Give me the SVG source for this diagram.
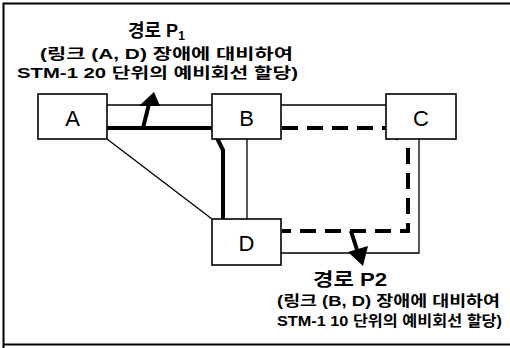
<svg xmlns="http://www.w3.org/2000/svg" width="510" height="348" viewBox="0 0 510 348">
<defs>
<style>
.box{fill:#fff;stroke:#000;stroke-width:1.6}
.lbl{font-family:"Liberation Sans",Arial,sans-serif;font-size:22px;text-anchor:middle;fill:#000}
.thin{fill:none;stroke:#000;stroke-width:1.3}
.thick{fill:none;stroke:#000;stroke-width:4}
.dash{fill:none;stroke:#000;stroke-width:4;stroke-dasharray:16 9}
.kt{font-family:"Liberation Sans","Noto Sans CJK KR",sans-serif;fill:#000}
.t1{font-size:18px;font-weight:bold}
.t2{font-size:15px;font-weight:bold}
</style>
</defs>
<rect x="0" y="0" width="510" height="348" fill="#fff"/>
<path d="M3.5 520 V3.5 H520 M3.5 344.5 H520" fill="none" stroke="#000" stroke-width="2"/>
<g id="connectors">
<line class="thin" x1="107" y1="105" x2="212" y2="105"/>
<line class="thin" x1="281" y1="105" x2="386" y2="105"/>
<line class="thin" x1="107" y1="139" x2="212" y2="219"/>
<line class="thin" x1="247" y1="139" x2="247" y2="219"/>
<polyline class="thin" points="419,139 419,253 281,253"/>
<polyline class="thick" points="107,128 212,128 223,150 223,219"/>
<polyline class="dash" points="282,128 387,128"/>
<polyline class="thick" points="387,128 398,139"/>
<polyline class="dash" points="408,148 408,231 282,231"/>
<line x1="143" y1="128" x2="149" y2="104" stroke="#000" stroke-width="4"/>
<polygon points="154,92 139,106 160,106" fill="#000"/>
<line x1="351" y1="231" x2="357" y2="250" stroke="#000" stroke-width="4"/>
<polygon points="363,266 348,252 368,246" fill="#000"/>
</g>
<g id="node-A"><rect class="box" x="38" y="94" width="69" height="45"/><text class="lbl" x="72.5" y="126">A</text></g>
<g id="node-B"><rect class="box" x="212" y="94" width="69" height="45"/><text class="lbl" x="246.5" y="126">B</text></g>
<g id="node-C"><rect class="box" x="386" y="94" width="70" height="45"/><text class="lbl" x="421" y="126">C</text></g>
<g id="node-D"><rect class="box" x="212" y="219" width="69" height="46"/><text class="lbl" x="246.5" y="251">D</text></g>
<g id="label-P1">
<text class="kt t1" x="128" y="37">경로 P<tspan font-size="12" dy="3">1</tspan></text>
<text class="kt t2" x="40" y="59" textLength="253" lengthAdjust="spacingAndGlyphs">(링크 (A, D) 장애에 대비하여</text>
<text class="kt t2" x="17" y="78" textLength="281" lengthAdjust="spacingAndGlyphs">STM-1 20 단위의 예비회선 할당)</text>
</g>
<g id="label-P2">
<text class="kt t1" x="313" y="286" textLength="74" lengthAdjust="spacingAndGlyphs">경로 P2</text>
<text class="kt t2" x="277" y="306" textLength="223" lengthAdjust="spacingAndGlyphs">(링크 (B, D) 장애에 대비하여</text>
<text class="kt t2" x="277" y="326" textLength="225" lengthAdjust="spacingAndGlyphs">STM-1 10 단위의 예비회선 할당)</text>
</g>
</svg>
